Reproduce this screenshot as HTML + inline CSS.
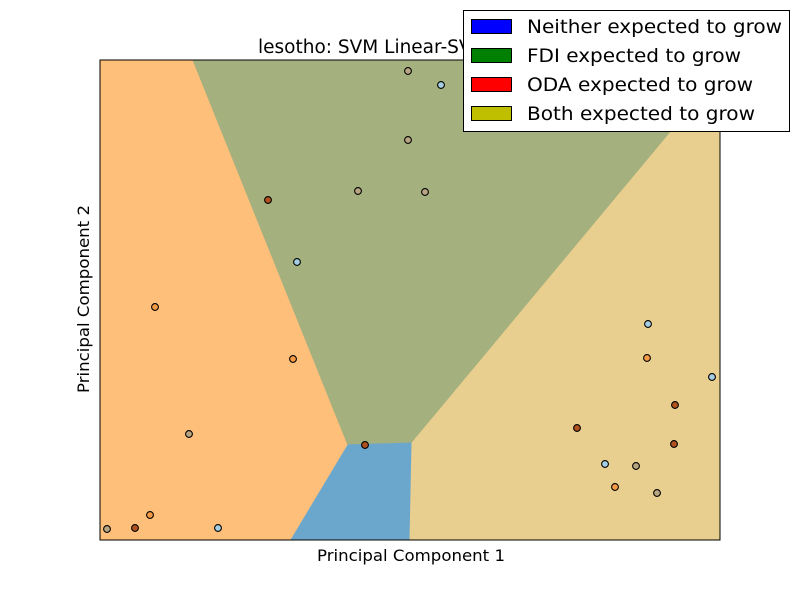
<!DOCTYPE html>
<html><head><meta charset="utf-8"><style>
body{margin:0;background:#fff;}
svg{display:block;font-family:"DejaVu Sans","Liberation Sans",sans-serif;}
</style></head><body>
<svg id="chart" width="800" height="600" xmlns="http://www.w3.org/2000/svg">
<rect width="800" height="600" fill="#fff"/>
<g id="regions"></g>
<g id="points"></g>
<rect x="100" y="60" width="620" height="480" fill="none" stroke="#000" stroke-width="1"/>
<text x="258" y="53" font-size="18.5" fill="#000">lesotho: SVM Linear-SVC</text>
<text x="317" y="561" font-size="16" textLength="188" lengthAdjust="spacingAndGlyphs">Principal Component 1</text>
<text transform="translate(89,393) rotate(-90)" font-size="16" textLength="188" lengthAdjust="spacingAndGlyphs">Principal Component 2</text>
<g>
<rect x="463.5" y="10.5" width="326" height="121" fill="#fff" stroke="#000"/>
<g><rect x="471.5" y="19.5" width="40" height="14" fill="#0000ff" stroke="#000"/><text x="527" y="33" font-size="19" textLength="255" lengthAdjust="spacingAndGlyphs">Neither expected to grow</text></g>
<g><rect x="471.5" y="48.5" width="40" height="14" fill="#008000" stroke="#000"/><text x="527" y="62" font-size="19" textLength="214" lengthAdjust="spacingAndGlyphs">FDI expected to grow</text></g>
<g><rect x="471.5" y="77.5" width="40" height="14" fill="#ff0000" stroke="#000"/><text x="527" y="91" font-size="19" textLength="226" lengthAdjust="spacingAndGlyphs">ODA expected to grow</text></g>
<g><rect x="471.5" y="106.5" width="40" height="14" fill="#bfbf00" stroke="#000"/><text x="527" y="120" font-size="19" textLength="228" lengthAdjust="spacingAndGlyphs">Both expected to grow</text></g>
</g>
</svg>
<script>
// data coordinates: x 0..620, y 0..480 (y up)
const pointX = [308,341,308,258,325,168,197,55,193,89,265,7,35,50,118,548,547,612,575,477,574,505,536,515,557];
const pointY = [469,455,400,349,348,340,278,233,181,106,95,11,12,25,12,216,182,163,135,112,96,76,74,53,47];
const pointClass = [3,0,3,3,3,2,0,1,1,3,2,3,2,1,0,0,1,0,2,2,2,0,3,1,3];
const classColors = ["#a6cee3","#f59a45","#b0521f","#b8a582"];
// region polygons in data units
const regionOrange = [[0,480],[93,480],[248,95],[191,0],[0,0]];
const regionGreen = [[93,480],[620,480],[620,467],[312,97],[248,95]];
const regionBlue = [[248,95],[312,97],[310,0],[191,0]];
const regionTan = [[312,97],[620,467],[620,0],[310,0]];
const regionColors = ["#fdbf79","#a4b07e","#6ba7cd","#e8ce8f"];
const X = v => 100 + v*(620/620);
const Y = v => 540 - v*(480/480);
const NS="http://www.w3.org/2000/svg";
const rg=document.getElementById('regions');
const regionNames=["region-oda","region-fdi","region-neither","region-both"];
[regionOrange,regionGreen,regionBlue,regionTan].forEach((poly,i)=>{
  const p=document.createElementNS(NS,'polygon');
  p.setAttribute('points',poly.map(q=>X(q[0])+','+Y(q[1])).join(' '));
  p.setAttribute('fill',regionColors[i]);
  p.setAttribute('stroke',regionColors[i]);
  
  
  rg.appendChild(p);
});
const pg=document.getElementById('points');
pointX.forEach((x,i)=>{
  const c=document.createElementNS(NS,'circle');
  c.setAttribute('cx',X(x));c.setAttribute('cy',Y(pointY[i]));c.setAttribute('r',3.4);
  c.setAttribute('fill',classColors[pointClass[i]]);c.setAttribute('stroke','#000');c.setAttribute('stroke-width','1.1');
  
  
  pg.appendChild(c);
});
</script>
</body></html>
